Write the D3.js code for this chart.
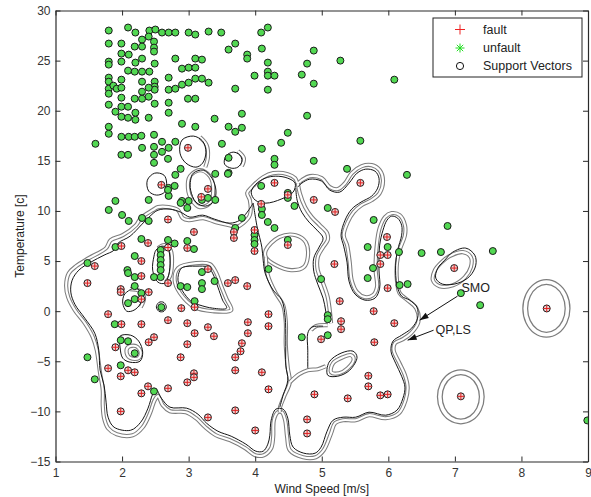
<!DOCTYPE html>
<html><head><meta charset="utf-8">
<script src="https://cdn.jsdelivr.net/npm/d3@7"></script>
<style>body{margin:0;background:#fff}text{font-family:"Liberation Sans",Arial,sans-serif}</style>
</head><body>
<svg id="chart" width="591" height="497"></svg>
<script>
// ---------- data ----------
const xTickValues=[1,2,3,4,5,6,7,8,9];
const yTickValues=[-15,-10,-5,0,5,10,15,20,25,30];
const legendLabels=["fault","unfault","Support Vectors"];
const xLabel="Wind Speed [m/s]", yLabel="Temperature [c]";

const faultPoints=[
[2.99,16.3],[2.59,12.6],[3.29,12.2],[3.19,11.4],[4.29,12.8],[5.58,12.8],[4.88,11.1],[5.20,9.9],[4.09,10.7],[4.49,11.6],
[2.69,9.15],[3.08,7.9],[3.68,7.9],[3.68,7.3],[3.99,8.1],[3.99,6.0],[4.49,6.6],[5.98,7.4],
[1.99,6.5],[2.39,6.8],[2.69,6.35],[2.98,6.3],[2.29,5.0],[1.59,4.5],[2.29,3.5],[3.29,4.2],[2.69,2.8],[1.98,2.2],[1.98,1.9],[1.48,2.8],[2.40,1.9],[2.29,1.2],[2.89,0.3],[3.09,0.4],[3.59,2.8],[3.70,3.1],[3.88,2.5],
[5.19,4.7],[5.88,5.6],[5.99,5.6],[5.88,4.7],[6.99,4.3],[5.99,2.3],[5.27,1.0],[5.78,0.0],
[1.79,-0.3],[1.99,-1.3],[2.29,-1.3],[2.69,-0.9],[2.98,-1.2],[3.09,-2.2],[3.29,-1.6],[3.38,-2.5],[2.48,-2.6],[2.40,-3.1],[2.98,-3.3],[1.90,-3.6],[2.88,-4.6],
[1.79,-5.7],[2.09,-5.9],[2.19,-6.1],[1.98,-6.5],[3.08,-6.2],[3.08,-6.6],[2.98,-7.1],[2.39,-7.5],[2.29,-8.2],[2.69,-7.7],[1.98,-10.0],[3.29,-10.6],
[3.70,-4.6],[3.70,-5.9],[3.70,-9.9],[3.78,-4.0],[3.80,-3.2],[3.89,-1.1],[3.89,-2.2],[4.20,-0.3],[4.20,-1.5],[4.10,-6.1],[4.20,-7.8],[4.0,-11.9],
[4.89,-8.3],[4.78,-10.8],[4.78,-12.2],[5.39,-8.7],[5.29,-1.0],[5.29,-1.8],[4.99,-2.8],[5.79,-3.1],[6.09,-1.2],[5.70,-6.45],[5.70,-7.5],[5.88,-8.4],[5.99,-8.3],[7.09,-8.5],[8.38,0.27]
];

const unfaultPoints=[
[1.80,28.0],[1.80,26.7],[1.80,24.9],[1.80,24.6],[1.80,23.3],[1.80,22.9],[1.80,22.2],[1.80,21.7],[1.80,20.6],[1.80,18.4],[1.80,17.7],
[2.09,28.3],[2.20,27.8],[1.99,26.7],[1.99,25.7],[2.10,25.6],[1.99,24.9],[2.20,24.8],[2.09,24.0],[2.19,26.4],[2.30,27.1],[2.30,26.4],[2.41,28.0],[2.50,28.1],[2.40,27.4],[2.48,26.9],[2.48,26.3],[2.48,25.9],[2.30,25.2],[2.19,23.9],[2.30,23.9],[2.41,23.9],[2.49,24.7],[2.49,22.9],[2.49,22.4],[2.49,22.1],[1.87,22.5],[1.92,22.2],[1.99,23.1],[1.99,22.3],[1.99,21.3],[1.99,20.4],[2.09,20.4],[2.19,21.2],[2.30,21.2],[2.30,21.9],[2.40,22.3],[2.40,21.4],[2.49,20.7],[2.30,22.9],[1.90,19.9],[1.99,19.4],[2.09,19.3],[2.20,19.1],[2.20,19.8],[2.40,19.3],[1.99,17.4],[2.10,17.4],[2.19,17.4],[2.29,17.5],[1.99,15.6],[2.09,15.6],[2.30,16.3],[2.48,17.6],[2.48,16.4],[2.48,15.6],[2.48,14.8],[2.60,16.9],[2.60,15.9],[2.70,16.3],[2.80,16.9],[2.69,15.2],[1.60,16.7],
[2.70,23.3],[2.70,22.1],[2.70,20.8],[2.70,19.8],[2.80,22.2],[2.90,22.6],[3.00,22.8],[3.10,23.2],[3.20,23.2],[3.30,22.8],[2.90,24.2],[3.00,24.3],[3.10,24.3],[3.10,25.2],[3.20,25.1],[2.80,25.2],[2.99,21.2],[3.10,21.2],[2.90,18.7],[3.10,18.4],[3.39,19.2],[3.60,18.4],[3.70,17.9],[3.80,18.3],[3.80,19.7],
[2.60,27.8],[2.70,27.8],[2.80,27.8],[3.00,27.8],[3.10,27.6],[3.30,27.9],[3.49,27.8],[3.60,26.1],[3.70,26.7],[3.88,25.6],[3.88,25.2],[4.09,27.8],[4.19,28.3],[4.10,26.2],[3.99,23.5],[4.19,24.8],[4.19,23.9],[4.19,23.5],[4.29,23.5],[4.19,22.1],[3.70,22.2],[3.50,16.7],[4.10,16.2],[4.29,15.2],[4.29,14.6],[4.49,17.8],[4.39,16.8],[3.60,15.3],[3.60,13.8],[3.40,13.7],[2.80,13.6],[2.70,12.3],[2.70,11.5],[2.90,11.0],[3.00,11.0],[3.20,11.1],[3.40,11.1],[2.40,11.1],[1.80,10.1],[1.90,11.0],[2.00,9.6],[2.10,9.0],[2.30,9.3],[2.40,9.0],[3.70,8.3],[3.80,9.3],[4.10,10.2],[4.10,9.6],[4.19,8.9],[4.29,8.3],[4.49,11.8],[4.59,10.5],
[4.88,26.0],[4.78,24.7],[4.70,23.6],[4.88,22.7],[5.28,25.0],[6.09,23.1],[4.78,19.5],[5.58,17.0],[4.88,15.0],[5.38,14.2],[6.28,13.6],[5.09,10.3],[5.78,9.1],[6.89,8.5],
[4.09,12.5],[4.49,11.3],[3.99,7.6],[3.99,7.1],[3.99,6.7],[4.49,7.1],[5.69,6.4],[5.99,6.4],[6.16,5.9],[5.77,4.3],[5.69,3.3],[6.17,2.6],[6.29,2.7],[4.20,4.2],[4.99,3.2],
[5.09,-0.4],[5.09,-0.8],[4.70,-2.6],[5.09,-2.4],
[1.89,-1.3],[1.98,-2.9],[2.09,-3.0],[2.19,-4.2],[1.98,-5.4],[1.48,-4.6],[1.59,-6.8],[2.48,-8.0],
[2.88,14.2],[3.59,13.7],[2.69,12.1],[2.79,12.5],[2.88,10.8],[2.98,10.3],[3.29,11.3],
[2.29,7.2],[2.69,7.1],[2.79,6.75],[2.98,7.0],[3.08,6.2],[1.90,6.4],[2.58,6.1],[2.58,5.6],[2.58,5.1],[2.58,4.6],[2.58,4.1],[2.58,3.4],[2.48,3.4],[1.48,4.8],[2.08,4.1],[2.09,3.8],[2.19,3.4],[3.20,3.9],[3.20,2.8],[3.20,2.2],[3.39,3.0],[2.88,2.5],[2.98,2.4],[2.19,2.5],[2.29,1.8],[2.19,1.2],[2.09,0.8],[2.59,0.4],[3.09,1.0],[2.19,5.5],
[6.50,5.8],[6.79,5.9],[7.57,6.0],[7.09,1.8],[7.38,0.6],[8.99,-10.9]
];

// QP / LS boundary (grey double line)
const grayMain=[[4.64,12.77],[4.60,13.27],[4.49,13.67],[4.27,13.77],[4.12,13.37],[3.95,12.38],[3.88,11.78],[3.92,11.08],[3.92,9.58],[3.82,8.78],[3.71,8.38],[3.61,8.58],[3.41,8.88],[3.22,9.28],[3.00,9.08],[2.91,9.28],[2.84,10.08],[2.70,10.38],[2.54,10.38],[2.46,10.08],[2.28,9.28],[2.21,8.58],[2.01,7.58],[1.83,7.09],[1.76,6.29],[1.50,5.29],[1.31,4.49],[1.20,3.79],[1.16,2.59],[1.19,1.40],[1.29,0.10],[1.44,-1.20],[1.56,-2.59],[1.62,-3.89],[1.67,-6.19],[1.71,-7.88],[1.71,-9.38],[1.73,-10.68],[1.79,-11.68],[1.92,-12.28],[2.16,-12.38],[2.31,-11.58],[2.42,-10.18],[2.49,-8.88],[2.54,-8.48],[2.61,-9.38],[2.72,-9.98],[2.96,-10.08],[3.11,-10.68],[3.25,-11.58],[3.41,-12.38],[3.62,-12.87],[3.85,-13.67],[4.00,-14.37],[4.13,-14.37],[4.24,-13.67],[4.27,-12.57],[4.28,-10.88],[4.34,-10.08],[4.40,-10.08],[4.45,-10.88],[4.48,-12.57],[4.52,-13.87],[4.72,-14.57],[4.91,-14.57],[5.03,-13.87],[5.14,-12.18],[5.20,-11.18],[5.32,-10.88],[5.51,-10.88],[5.71,-10.38],[5.96,-10.68],[6.16,-10.18],[6.26,-8.88],[6.29,-7.58],[6.25,-6.39],[6.16,-5.09],[6.08,-3.89],[6.10,-3.19],[6.22,-2.79],[6.34,-2.20],[6.45,-1.10],[6.42,0.30],[6.29,1.10],[6.17,1.80],[6.13,3.09],[6.13,4.79],[6.17,6.09],[6.25,7.58],[6.25,8.58],[6.17,9.58],[6.05,9.78],[5.95,9.38],[5.87,8.28],[5.83,6.79],[5.81,4.09],[5.83,2.40],[5.77,1.60],[5.65,1.40],[5.53,1.90],[5.45,3.09],[5.42,4.89],[5.38,6.59],[5.33,7.58],[5.39,8.88],[5.48,9.88],[5.60,10.58],[5.75,11.08],[5.87,11.78],[5.92,13.07],[5.87,14.07],[5.75,14.57],[5.60,14.47],[5.45,13.77],[5.35,12.77],[5.24,12.18],[5.12,12.38],[5.00,13.27],[4.82,13.47],[4.70,13.07]];
const grayTongue=[[4.64,12.77],[4.67,11.78],[4.75,10.38],[4.85,9.38],[4.97,8.58],[5.08,7.78],[5.09,7.09],[5.02,6.39],[4.94,5.39],[4.94,4.09],[5.02,2.79],[5.09,1.40],[5.12,0.10],[5.14,-1.20]];
const grayChannel=[[4.16,5.39],[4.19,3.59],[4.30,1.90],[4.42,0.60],[4.46,-1.10],[4.46,-3.39],[4.49,-5.69],[4.52,-7.09],[4.43,-8.58],[4.37,-9.68],[4.37,-10.08]];
const grayBranch=[[4.52,-7.09],[4.66,-6.29],[4.79,-5.89],[4.94,-5.79],[5.06,-5.49]];
const grayVert=[[5.09,-1.40],[4.91,-1.50],[4.84,-1.90]];
const grayArc16=[[3.17,17.37],[3.27,16.57],[3.29,15.37],[3.25,14.37]];
const grayArc15=[[3.74,15.97],[3.83,15.27],[3.80,14.47]];
const grayArcCol=[[2.54,6.29],[2.64,6.59],[2.73,6.09],[2.75,4.89],[2.72,3.49],[2.66,2.89]];
const grayArc21=[[2.12,2.2],[2.27,2.0],[2.33,1.3],[2.28,0.4]];
const grayLoop45=[[4.16,6.09],[4.36,7.39],[4.61,7.58],[4.76,6.89],[4.79,5.39],[4.73,4.39],[4.54,4.09],[4.31,4.59],[4.16,5.39]];
const graySmallLoop=[[5.14,-6.09],[5.17,-5.19],[5.32,-4.59],[5.44,-4.39],[5.48,-4.79],[5.39,-5.69],[5.26,-6.19]];
const grayLoop7=[[6.92,5.49],[7.12,5.89],[7.24,5.39],[7.24,4.39],[7.15,3.39],[6.97,2.59],[6.77,2.49],[6.67,3.09],[6.70,4.09],[6.80,4.89]];
const grayLoop12=[[3.02,13.47],[3.17,14.07],[3.32,13.47],[3.37,12.08],[3.32,10.78],[3.17,10.38],[3.05,11.08],[2.99,12.28]];
const grayLoopNeg3=[[2.09,-3.59],[2.21,-3.49],[2.28,-4.09],[2.25,-4.69],[2.13,-4.69],[2.07,-4.19]];
const grayLoop32=[[2.84,4.29],[3.11,4.79],[3.32,4.69],[3.41,3.89],[3.49,2.50],[3.57,1.20],[3.64,0.10],[3.36,0.0],[3.09,0.40],[2.87,1.80],[2.79,3.09]];
const grayRing8=[[8.693,0.27],[8.650,1.585],[8.534,2.548],[8.375,2.90],[8.216,2.548],[8.10,1.585],[8.057,0.27],[8.10,-1.045],[8.216,-2.008],[8.375,-2.36],[8.534,-2.008],[8.650,-1.045]];
const grayRing7=[[7.404,-8.55],[7.362,-7.325],[7.247,-6.43],[7.089,-6.10],[6.931,-6.43],[6.816,-7.325],[6.774,-8.55],[6.816,-9.775],[6.931,-10.67],[7.089,-11.0],[7.247,-10.67],[7.362,-9.775]];

// SMO boundary (black line)
const blackMain=[[3.97,10.78],[3.88,9.88],[3.77,9.08],[3.62,8.78],[3.39,9.18],[3.21,9.58],[3.02,9.38],[2.88,9.88],[2.72,10.18],[2.54,10.08],[2.42,9.48],[2.30,8.68],[2.12,7.48],[1.94,6.79],[1.88,6.09],[1.73,5.59],[1.53,4.89],[1.35,4.09],[1.25,3.09],[1.23,1.90],[1.29,0.70],[1.44,-0.70],[1.59,-2.20],[1.65,-3.89],[1.67,-5.89],[1.73,-7.39],[1.76,-9.08],[1.79,-10.58],[1.88,-11.58],[2.13,-11.88],[2.28,-11.08],[2.39,-9.68],[2.46,-8.28],[2.51,-7.78],[2.59,-8.68],[2.72,-9.58],[2.97,-9.68],[3.14,-10.28],[3.27,-11.18],[3.44,-11.98],[3.64,-12.48],[3.86,-13.27],[4.01,-13.97],[4.12,-13.97],[4.19,-13.27],[4.22,-12.38],[4.24,-10.88],[4.31,-9.78],[4.42,-9.78],[4.49,-10.68],[4.52,-12.38],[4.57,-13.57],[4.73,-14.17],[4.90,-14.17],[4.99,-13.57],[5.08,-11.98],[5.17,-10.88],[5.32,-10.58],[5.51,-10.58],[5.71,-10.08],[5.96,-10.38],[6.13,-9.88],[6.22,-8.68],[6.25,-7.58],[6.20,-6.49],[6.11,-5.19],[6.04,-3.99],[6.07,-2.99],[6.20,-2.40],[6.35,-1.70],[6.44,-0.70],[6.43,0.40],[6.32,1.10],[6.20,1.50],[6.13,2.59],[6.11,4.59],[6.14,6.09],[6.20,7.58],[6.20,8.58],[6.14,9.28],[6.05,9.48],[5.98,9.08],[5.92,8.08],[5.87,6.59],[5.86,4.09],[5.87,2.30],[5.80,1.30],[5.65,1.10],[5.50,1.70],[5.41,2.99],[5.38,4.89],[5.33,6.49],[5.29,7.58],[5.35,9.08],[5.45,10.18],[5.59,10.88],[5.75,11.48],[5.84,12.28],[5.86,13.27],[5.80,13.97],[5.66,14.17],[5.53,13.77],[5.41,12.77],[5.27,11.88],[5.12,12.08],[5.00,12.97],[4.82,13.17],[4.70,12.77],[4.64,12.38]];
const blackChannel=[[3.97,10.78],[4.03,8.38],[4.10,6.39],[4.12,5.09],[4.15,3.79],[4.27,2.10],[4.40,1.10],[4.45,-0.60],[4.46,-2.89],[4.46,-5.39],[4.49,-6.89],[4.42,-8.38],[4.37,-9.58]];
const blackTongue=[[4.61,12.28],[4.63,11.08],[4.70,9.88],[4.81,8.88],[4.93,8.08],[5.02,7.29],[4.96,6.39],[4.88,5.29],[4.88,3.99],[4.94,2.69],[5.02,1.30],[5.06,0.0],[5.08,-1.10]];
const blackVert=[[5.02,-1.50],[4.85,-1.60],[4.79,-2.20],[4.79,-3.89],[4.79,-5.69]];
const blackLobe=[[3.94,11.88],[4.01,12.67],[4.15,13.27],[4.31,13.47],[4.49,13.27],[4.60,12.77],[4.57,11.88],[4.39,11.18],[4.16,10.78],[4.00,11.08]];
const blackSmallLoop=[[5.09,-6.39],[5.11,-5.09],[5.29,-4.19],[5.47,-3.99],[5.53,-4.59],[5.42,-5.89],[5.24,-6.49]];
const blackLoop7=[[6.968,5.89],[7.164,6.29],[7.299,5.59],[7.314,4.59],[7.224,3.49],[7.044,2.79],[6.818,2.69],[6.713,3.29],[6.743,4.29],[6.848,5.09]];
const blackLoop16=[[2.90,17.07],[3.07,17.47],[3.21,16.97],[3.26,15.87],[3.21,14.77],[3.11,14.37],[2.96,14.77],[2.87,15.77]];
const blackLoop15=[[3.56,15.47],[3.67,15.87],[3.77,15.57],[3.80,14.97],[3.74,14.37],[3.64,14.27],[3.54,14.67]];
const blackLoop126=[[2.38,13.07],[2.49,13.77],[2.63,13.57],[2.67,12.77],[2.64,11.88],[2.52,11.58],[2.40,11.98]];
const blackLoop12=[[3.07,13.77],[3.22,14.07],[3.35,13.27],[3.41,12.08],[3.38,10.98],[3.25,10.48],[3.11,10.88],[3.03,12.08],[3.03,13.07]];
const blackLoopCol=[[2.51,6.09],[2.60,6.49],[2.69,6.19],[2.72,5.09],[2.70,3.59],[2.64,2.79],[2.54,2.89],[2.46,4.09],[2.48,5.49]];
const blackLoopDot=[[2.665,0.43],[2.63,0.86],[2.59,0.93],[2.55,0.86],[2.515,0.43],[2.55,0.0],[2.59,-0.07],[2.63,0.0]];
const blackLoop21=[[2.07,1.90],[2.19,2.30],[2.30,1.80],[2.28,0.80],[2.18,0.10],[2.07,0.0],[2.01,0.80],[2.03,1.60]];
const blackLoopNeg3=[[1.97,-2.49],[2.13,-2.40],[2.25,-2.99],[2.31,-4.09],[2.27,-4.99],[2.12,-5.09],[2.01,-4.69],[1.97,-3.59]];
const blackLoop32=[[2.87,4.09],[2.92,4.39],[3.11,4.49],[3.29,4.39],[3.36,3.79],[3.44,2.40],[3.51,1.10],[3.57,0.30],[3.36,0.30],[3.17,0.60],[3.05,0.90],[2.90,2.10],[2.84,3.09]];

// annotations
const annotationLabels=["SMO","QP,LS"];
const annotationText=[[7.10,1.95],[6.71,-2.30]];
const annotationArrows=[[[7.04,1.50],[6.47,-0.90]],[[6.68,-1.90],[6.29,-2.89]]];

// ---------- drawing ----------
const svg=d3.select("#chart");
const x=d3.scaleLinear().domain([1,9]).range([55.5,588]);
const y=d3.scaleLinear().domain([-15,30]).range([461.5,10.5]);

svg.append("defs").append("clipPath").attr("id","plotclip").append("rect")
  .attr("x",x(1)).attr("y",y(30)).attr("width",x(9)-x(1)).attr("height",y(-15)-y(30));
const plot=svg.append("g").attr("clip-path","url(#plotclip)");

const openLine=d3.line().x(d=>x(d[0])).y(d=>y(d[1])).curve(d3.curveCatmullRom.alpha(0.5));
const closedLine=d3.line().x(d=>x(d[0])).y(d=>y(d[1])).curve(d3.curveCatmullRomClosed.alpha(0.5));

const grayClosed=[grayMain,grayLoop45,graySmallLoop,grayLoop7,grayLoop12,grayLoopNeg3,grayLoop32];
const grayOpen=[grayTongue,grayChannel,grayBranch,grayVert,grayArc16,grayArc15,grayArcCol,grayArc21];
const grayRings=[grayRing8,grayRing7];
const blackClosed=[blackLobe,blackSmallLoop,blackLoop7,blackLoop16,blackLoop15,blackLoop126,blackLoop12,blackLoopCol,blackLoopDot,blackLoop21,blackLoopNeg3,blackLoop32];
const blackOpen=[blackMain,blackChannel,blackTongue,blackVert];

function dbl(gen,data,w,gap){
  plot.append("path").attr("d",gen(data)).attr("fill","none").attr("stroke","#7d7d7d").attr("stroke-width",w).attr("stroke-linejoin","round");
  plot.append("path").attr("d",gen(data)).attr("fill","none").attr("stroke","#fff").attr("stroke-width",gap).attr("stroke-linejoin","round");
}
grayClosed.forEach(p=>dbl(closedLine,p,4.2,2.1));
grayOpen.forEach(p=>dbl(openLine,p,4.2,2.1));
grayRings.forEach(p=>dbl(closedLine,p,6.0,3.5));
blackClosed.forEach(p=>plot.append("path").attr("d",closedLine(p)).attr("fill","none").attr("stroke","#151515").attr("stroke-width",1));
blackOpen.forEach(p=>plot.append("path").attr("d",openLine(p)).attr("fill","none").attr("stroke","#151515").attr("stroke-width",1));

// points
const R=3.5;
plot.selectAll("circle.unf").data(unfaultPoints).join("circle").attr("class","unf")
  .attr("cx",d=>x(d[0])).attr("cy",d=>y(d[1])).attr("r",R)
  .attr("fill","#52d852").attr("stroke","#1b1b1b").attr("stroke-width",1);
const fg=plot.selectAll("g.flt").data(faultPoints).join("g").attr("class","flt")
  .attr("transform",d=>`translate(${x(d[0])},${y(d[1])})`);
fg.append("circle").attr("r",R).attr("fill","#f3d2d2").attr("stroke","#1b1b1b").attr("stroke-width",1);
fg.append("path").attr("d",`M${-R},0H${R}M0,${-R}V${R}`).attr("stroke","#d22").attr("stroke-width",1);

// annotations
const ann=svg.append("g");
annotationArrows.forEach(a=>{
  const x0=x(a[0][0]),y0=y(a[0][1]),x1=x(a[1][0]),y1=y(a[1][1]);
  const ang=Math.atan2(y1-y0,x1-x0), L=9, Wd=3;
  ann.append("line").attr("x1",x0).attr("y1",y0).attr("x2",x1).attr("y2",y1).attr("stroke","#111").attr("stroke-width",1);
  const bx=x1-L*Math.cos(ang), by=y1-L*Math.sin(ang);
  const pts=[[x1,y1],[bx+Wd*Math.sin(ang),by-Wd*Math.cos(ang)],[bx-Wd*Math.sin(ang),by+Wd*Math.cos(ang)]];
  ann.append("polygon").attr("points",pts.map(p=>p.join(",")).join(" ")).attr("fill","#111");
});
annotationLabels.forEach((t,i)=>{
  ann.append("text").attr("x",x(annotationText[i][0])).attr("y",y(annotationText[i][1]))
    .attr("font-size",12.5).attr("fill","#222").text(t);
});

// axes
const axG=svg.append("g");
axG.append("g").attr("transform",`translate(0,${y(-15)})`)
  .call(d3.axisBottom(x).tickValues(xTickValues).tickSize(-5).tickSizeOuter(0).tickPadding(7).tickFormat(d3.format("d")));
axG.append("g").attr("transform",`translate(0,${y(30)})`)
  .call(d3.axisTop(x).tickValues(xTickValues).tickSize(-5).tickSizeOuter(0).tickFormat(""));
axG.append("g").attr("transform",`translate(${x(1)},0)`)
  .call(d3.axisLeft(y).tickValues(yTickValues).tickSize(-5).tickSizeOuter(0).tickPadding(5).tickFormat(d3.format("d")));
axG.append("g").attr("transform",`translate(${x(9)},0)`)
  .call(d3.axisRight(y).tickValues(yTickValues).tickSize(-5).tickSizeOuter(0).tickFormat(""));
axG.selectAll(".domain").attr("stroke","#2a2a2a").attr("stroke-width",1.2);
axG.selectAll(".tick line").attr("stroke","#2a2a2a");
axG.selectAll(".tick text").attr("font-size",12).attr("fill","#333").attr("font-family","Liberation Sans, Arial, sans-serif");

svg.append("text").attr("x",(x(1)+x(9))/2).attr("y",493).attr("text-anchor","middle")
  .attr("font-size",12).attr("fill","#222").text(xLabel);
svg.append("text").attr("transform",`translate(24,${(y(30)+y(-15))/2}) rotate(-90)`).attr("text-anchor","middle")
  .attr("font-size",12).attr("fill","#222").text(yLabel);

// legend
const lg=svg.append("g");
lg.append("rect").attr("x",433).attr("y",18).attr("width",149).attr("height",59).attr("fill","#fff").attr("stroke","#222").attr("stroke-width",1);
const ly=[29.5,48,66];
lg.append("path").attr("d",`M455,${ly[0]}h10M460,${ly[0]-5}v10`).attr("stroke","#e22").attr("stroke-width",1);
lg.append("path").attr("d",`M455.5,${ly[1]}h9M460,${ly[1]-4.5}v9M456.8,${ly[1]-3.2}l6.4,6.4M463.2,${ly[1]-3.2}l-6.4,6.4`).attr("stroke","#2d2").attr("stroke-width",1);
lg.append("circle").attr("cx",460).attr("cy",ly[2]).attr("r",3.6).attr("fill","none").attr("stroke","#111").attr("stroke-width",1);
legendLabels.forEach((t,i)=>lg.append("text").attr("x",483).attr("y",ly[i]+4.3).attr("font-size",12.5).attr("fill","#222").text(t));
</script>
</body></html>
